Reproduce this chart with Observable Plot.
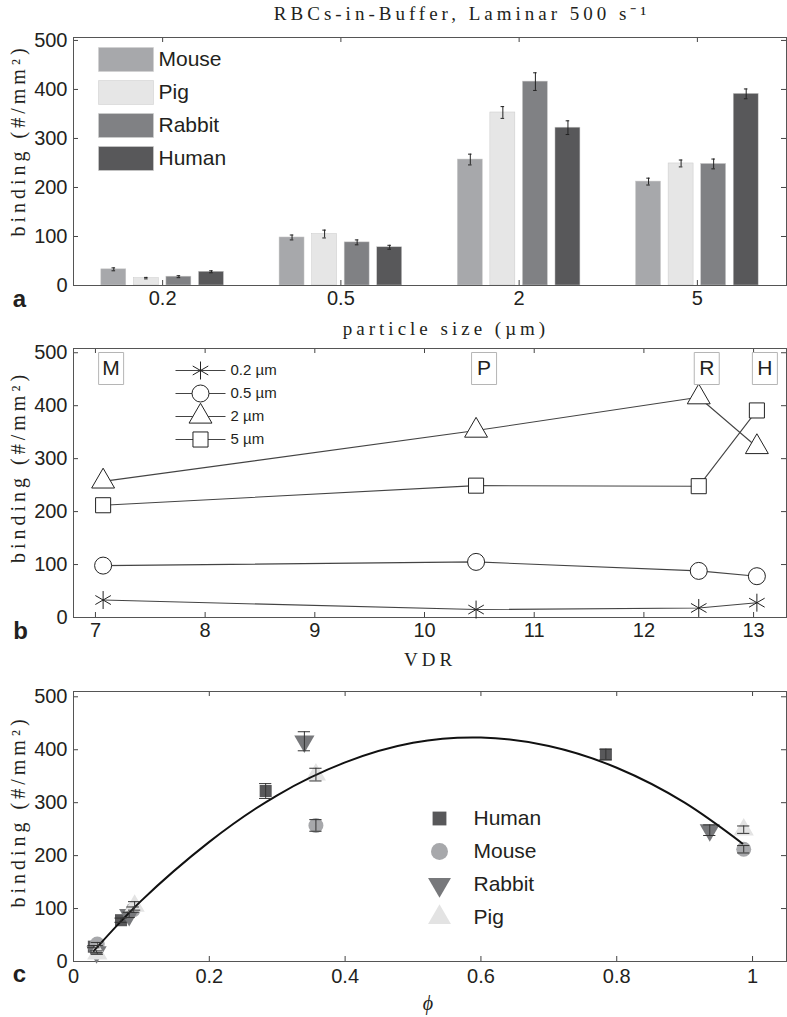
<!DOCTYPE html>
<html><head><meta charset="utf-8">
<script src="https://cdn.jsdelivr.net/npm/d3@7"></script>
<script src="https://cdn.jsdelivr.net/npm/@observablehq/plot@0.6"></script>
<style>
body{margin:0;background:#fff;}
#wrap{position:relative;width:787px;height:1017px;overflow:hidden;background:#fff;}
#wrap svg{position:absolute;left:0;}
[font-family*="Serif"]{letter-spacing:4px;}
</style></head><body><div id="wrap"></div>
<script>
// ---------- data ----------
const sizes = ["0.2", "0.5", "2", "5"];
const sizeLabels = ["0.2 µm", "0.5 µm", "2 µm", "5 µm"];
const species = ["Mouse", "Pig", "Rabbit", "Human"];
const speciesColors = ["#a7a8ab", "#e6e6e6", "#808184", "#58585a"];
const mouse = [33, 98, 257, 212];
const pig = [15, 105, 353, 249];
const rabbit = [18, 88, 416, 248];
const human = [28, 78, 322, 391];
const mouseErr = [3, 5, 11, 7];
const pigErr = [1.5, 8, 12, 7];
const rabbitErr = [2, 5, 18, 10];
const humanErr = [2, 4, 14, 10];
const vdr = [7.07, 10.47, 12.5, 13.03];          // Mouse, Pig, Rabbit, Human
const vdrLetters = ["M", "P", "R", "H"];
const phiMouse = [0.035, 0.088, 0.357, 0.987];
const phiPig = [0.035, 0.090, 0.357, 0.987];
const phiRabbit = [0.034, 0.082, 0.340, 0.937];
const phiHuman = [0.030, 0.070, 0.283, 0.784];
const fitPhi = [0.03, 0.1, 0.2, 0.3, 0.4, 0.5, 0.6, 0.7, 0.8, 0.9, 0.985];
const fitBinding = [20, 115, 226, 314, 376, 413, 423, 407, 366, 300, 223];
const yTicks = [0, 100, 200, 300, 400, 500];
const vdrTicks = [7, 8, 9, 10, 11, 12, 13];
const phiTicks = [0, 0.2, 0.4, 0.6, 0.8, 1];
const title = "RBCs-in-Buffer, Laminar 500 s⁻¹";
const yLabel = "binding (#/mm²)";

// ---------- helpers ----------
const values = [mouse, pig, rabbit, human];
const errs = [mouseErr, pigErr, rabbitErr, humanErr];
const phis = [phiMouse, phiPig, phiRabbit, phiHuman];
const sans = "Liberation Sans, Arial, sans-serif";
const serif = "Liberation Serif, Times New Roman, serif";
const ink = "#231f20";
const W = 787;
const rectSym = (w, h) => ({draw(ctx) { ctx.rect(-w / 2, -h / 2, w, h); }});
const lineSym = (w) => ({draw(ctx) { ctx.moveTo(-w / 2, 0); ctx.lineTo(w / 2, 0); }});
function frameTicks(xt, yt, fw, fh, stroke) {
  return [
    Plot.tickX(xt, {x: d => d, insetTop: fh - 5, stroke}),
    Plot.tickX(xt, {x: d => d, insetBottom: fh - 5, stroke}),
    Plot.tickY(yt, {y: d => d, insetRight: fw - 5, stroke}),
    Plot.tickY(yt, {y: d => d, insetLeft: fw - 5, stroke})
  ];
}
const yLab = (dy) => Plot.text([yLabel], {frameAnchor: "left", dx: -55, dy, rotate: -90, textAnchor: "middle", lineAnchor: "middle", text: d => d, fontSize: 20, fontFamily: serif, fill: ink});
const panelLetter = (t, dx, dy) => Plot.text([t], {frameAnchor: "bottom-left", dx, dy, textAnchor: "middle", lineAnchor: "middle", text: d => d, fontSize: 24, fontWeight: "bold", fontFamily: sans, fill: ink});
const wrap = document.getElementById("wrap");
function place(svg, top) { svg.style.top = top + "px"; wrap.appendChild(svg); return svg; }

// ---------- panel a ----------
const rowsA = sizes.flatMap((s, j) => species.map((sp, k) => ({
  size: s, g: j + 1, k, species: sp, value: values[k][j], err: errs[k][j]
})));
const cx = d => d.g + (d.k - 1.5) * 0.1826;
const hA = 335, mtA = 37, mbA = 50, fwA = W - 73 - 1, fhA = hA - mtA - mbA;
const legendA = species.flatMap((sp, i) => [
  Plot.dot([sp], {frameAnchor: "top-left", dx: 52.5, dy: 22 + i * 33, symbol: rectSym(55, 24), fill: speciesColors[i], stroke: "#d0d0d0", strokeWidth: 0.6}),
  Plot.text([sp], {frameAnchor: "top-left", dx: 85, dy: 22 + i * 33, text: d => d, textAnchor: "start", lineAnchor: "middle", fontSize: 21, fontFamily: sans, fill: ink})
]);
const plotA = Plot.plot({
  width: W, height: hA, marginTop: mtA, marginBottom: mbA, marginLeft: 73, marginRight: 1,
  style: {color: ink, background: "transparent", overflow: "visible"},
  x: {domain: [0.5, 4.5]},
  y: {domain: [0, 506]},
  color: {domain: species, range: speciesColors},
  marks: [
    Plot.rect(rowsA, {x1: d => cx(d) - 0.07, x2: d => cx(d) + 0.07, y1: 0, y2: "value", fill: "species", stroke: "#c9c9c9", strokeWidth: 0.5}),
    Plot.ruleX(rowsA, {x: cx, y1: d => d.value - d.err, y2: d => d.value + d.err, stroke: "#222", strokeWidth: 1}),
    Plot.ruleY(rowsA, {y: d => d.value + d.err, x1: d => cx(d) - 0.01, x2: d => cx(d) + 0.01, stroke: "#222"}),
    Plot.ruleY(rowsA, {y: d => d.value - d.err, x1: d => cx(d) - 0.01, x2: d => cx(d) + 0.01, stroke: "#222"}),
    ...frameTicks([1, 2, 3, 4], yTicks, fwA, fhA, "#444"),
    Plot.frame({stroke: "#555"}),
    Plot.axisX({ticks: [1, 2, 3, 4], tickFormat: i => sizes[i - 1], tickSize: 0, tickPadding: 5, fontSize: 20, fontFamily: sans, label: null}),
    Plot.axisY({ticks: yTicks, tickFormat: String, tickSize: 0, tickPadding: 6, fontSize: 20, fontFamily: sans, label: null}),
    ...legendA,
    Plot.text([title], {frameAnchor: "top", dx: 32, dy: -24, lineAnchor: "middle", text: d => d, fontSize: 19, fontFamily: serif, fill: ink}),
    yLab(-21),
    Plot.text(["particle size (µm)"], {frameAnchor: "bottom", dx: 16, dy: 43, lineAnchor: "middle", text: d => d, fontSize: 19, fontFamily: serif, fill: ink}),
    panelLetter("a", -54, 14)
  ]
});
place(plotA, 0);

// ---------- panel b ----------
const rowsB = sizes.flatMap((s, j) => species.map((sp, k) => ({
  size: s, vdr: vdr[k], value: values[k][j]
})));
const boxesB = species.map((sp, k) => ({letter: vdrLetters[k], vdr: vdr[k]}));
const symbolsB = ["asterisk", "circle", "triangle", "square"];
const hB = 345, mtB = 13, mbB = 63, fwB = W - 73 - 1, fhB = hB - mtB - mbB;
const legendB = sizeLabels.flatMap((lab, i) => [
  Plot.dot([lab], {frameAnchor: "top-left", dx: 127, dy: 22 + i * 23, symbol: lineSym(50), stroke: "#444", strokeWidth: 1.2}),
  Plot.dot([lab], {frameAnchor: "top-left", dx: 127, dy: 22 + i * 23, symbol: symbolsB[i], r: 8.5, stroke: "#222", fill: "white", strokeWidth: 1}),
  Plot.text([lab], {frameAnchor: "top-left", dx: 157, dy: 22 + i * 23, text: d => d, textAnchor: "start", lineAnchor: "middle", fontSize: 15, fontFamily: sans, fill: ink})
]);
const plotB = Plot.plot({
  width: W, height: hB, marginTop: mtB, marginBottom: mbB, marginLeft: 73, marginRight: 1,
  style: {color: ink, background: "transparent", overflow: "visible"},
  x: {domain: [6.8, 13.3]},
  y: {domain: [0, 508]},
  symbol: {domain: sizes, range: symbolsB},
  marks: [
    ...frameTicks(vdrTicks, yTicks, fwB, fhB, "#444"),
    Plot.frame({stroke: "#555"}),
    Plot.line(rowsB, {x: "vdr", y: "value", z: "size", stroke: "#444", strokeWidth: 1.1}),
    Plot.dot(rowsB, {x: "vdr", y: "value", symbol: "size", r: 8.5, stroke: "#222", fill: "white", strokeWidth: 1}),
    Plot.dot(boxesB, {x: "vdr", frameAnchor: "top", dx: 8, dy: 20, symbol: rectSym(25, 32), stroke: "#b5b5b5", fill: "white", strokeWidth: 1}),
    Plot.text(boxesB, {x: "vdr", frameAnchor: "top", dx: 8, dy: 20, lineAnchor: "middle", text: "letter", fontSize: 21, fontFamily: sans, fill: ink}),
    ...legendB,
    Plot.axisX({ticks: vdrTicks, tickFormat: String, tickSize: 0, tickPadding: 5, fontSize: 20, fontFamily: sans, label: null}),
    Plot.axisY({ticks: yTicks, tickFormat: String, tickSize: 0, tickPadding: 6, fontSize: 20, fontFamily: sans, label: null}),
    yLab(-16),
    Plot.text(["VDR"], {frameAnchor: "bottom", dy: 42, lineAnchor: "middle", text: d => d, fontSize: 19, fontFamily: serif, fill: ink}),
    panelLetter("b", -53, 14)
  ]
});
place(plotB, 335);

// ---------- panel c ----------
const speciesC = ["Human", "Mouse", "Rabbit", "Pig"];
const styleC = {
  Human: {symbol: "square", fill: "#58585a", r: 6.8, rotate: 0},
  Mouse: {symbol: "circle", fill: "#a7a8ab", r: 7.5, rotate: 0},
  Rabbit: {symbol: "triangle", fill: "#77787b", r: 7.5, rotate: 180},
  Pig: {symbol: "triangle", fill: "#e3e3e3", r: 7.5, rotate: 0}
};
const rowsC = species.flatMap((sp, k) => sizes.map((s, j) => ({
  species: sp, phi: phis[k][j], value: values[k][j], err: errs[k][j]
})));
const fit = fitPhi.map((p, i) => ({phi: p, value: fitBinding[i]}));
const hC = 337, mtC = 11, mbC = 56, fwC = W - 73 - 1, fhC = hC - mtC - mbC;
const dotsC = speciesC.map(sp => Plot.dot(rowsC.filter(d => d.species === sp), {
  x: "phi", y: "value", symbol: styleC[sp].symbol, r: styleC[sp].r, rotate: styleC[sp].rotate, fill: styleC[sp].fill
}));
const legendC = speciesC.flatMap((sp, i) => [
  Plot.dot([sp], {frameAnchor: "top-left", dx: 366, dy: 127 + i * 33, symbol: styleC[sp].symbol, r: styleC[sp].r + 1, rotate: styleC[sp].rotate, fill: styleC[sp].fill}),
  Plot.text([sp], {frameAnchor: "top-left", dx: 400, dy: 127 + i * 33, text: d => d, textAnchor: "start", lineAnchor: "middle", fontSize: 21, fontFamily: sans, fill: ink})
]);
const plotC = Plot.plot({
  width: W, height: hC, marginTop: mtC, marginBottom: mbC, marginLeft: 73, marginRight: 1,
  style: {color: ink, background: "transparent", overflow: "visible"},
  x: {domain: [0, 1.05]},
  y: {domain: [0, 510]},
  marks: [
    ...frameTicks(phiTicks, yTicks, fwC, fhC, "#444"),
    Plot.frame({stroke: "#555"}),
    ...dotsC,
    Plot.line(fit, {x: "phi", y: "value", curve: "natural", stroke: "#111", strokeWidth: 2}),
    Plot.ruleX(rowsC, {x: "phi", y1: d => d.value - d.err, y2: d => d.value + d.err, stroke: "#333", strokeWidth: 1}),
    Plot.ruleY(rowsC, {y: d => d.value + d.err, x1: d => d.phi - 0.009, x2: d => d.phi + 0.009, stroke: "#333"}),
    Plot.ruleY(rowsC, {y: d => d.value - d.err, x1: d => d.phi - 0.009, x2: d => d.phi + 0.009, stroke: "#333"}),
    ...legendC,
    Plot.axisX({ticks: phiTicks, tickFormat: String, tickSize: 0, tickPadding: 7, fontSize: 20, fontFamily: sans, label: null}),
    Plot.axisY({ticks: yTicks, tickFormat: String, tickSize: 0, tickPadding: 6, fontSize: 20, fontFamily: sans, label: null}),
    yLab(-15),
    Plot.text(["ϕ"], {frameAnchor: "bottom", dy: 42, lineAnchor: "middle", text: d => d, fontSize: 20, fontStyle: "italic", fontFamily: serif, fill: ink}),
    panelLetter("c", -54, 13)
  ]
});
place(plotC, 680);
</script></body></html>
